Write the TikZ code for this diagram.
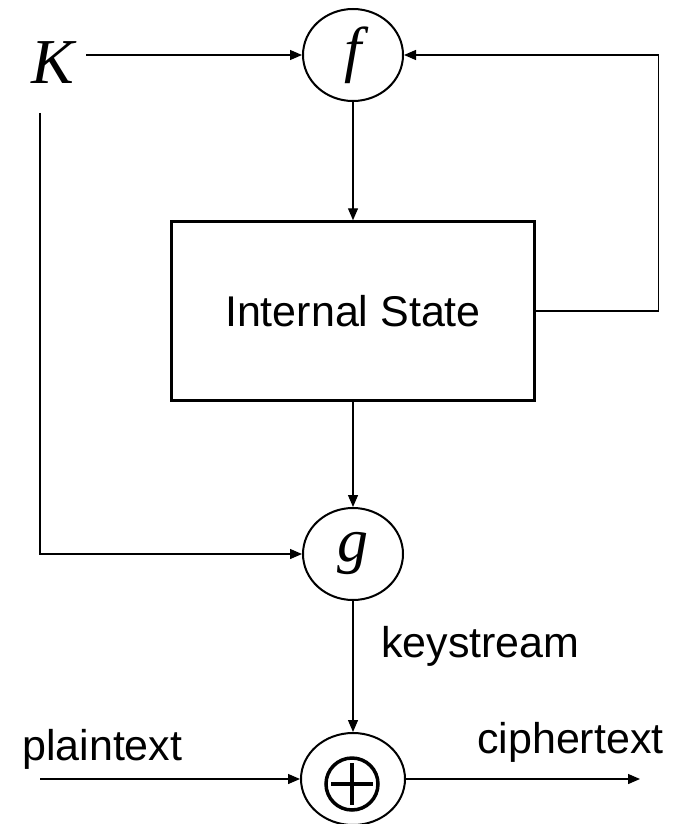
\documentclass[tikz,border=0pt]{standalone}
\usepackage{fontspec}
\setmainfont{Liberation Serif}
\setsansfont{Liberation Sans}
\usetikzlibrary{arrows.meta,shapes.geometric}
\begin{document}
\begin{tikzpicture}[x=1pt,y=-1pt,
  conn/.style={line width=1.3pt,-{Triangle[length=12pt,width=10pt]}},
  fn/.style={draw,ellipse,line width=2pt,minimum width=100pt,minimum height=92pt,inner sep=0pt,
    font=\fontsize{62}{62}\selectfont\itshape},
  lbl/.style={inner sep=0pt,font=\sffamily\fontsize{43}{50}\selectfont},
  statebox/.style={draw,line width=2.5pt,minimum width=363pt,minimum height=179pt,inner sep=0pt,
    font=\sffamily\fontsize{43}{50}\selectfont}]
\useasboundingbox (0,0) rectangle (672,824);
\node[inner sep=0pt,font=\fontsize{64}{64}\selectfont\itshape] (K) at (53,63) {K};
\node[fn] (f) at (353,55) {f};
\node[statebox] (box) at (353,311) {Internal State};
\node[fn] (g) at (353,554) {g};
\node[draw,ellipse,line width=2pt,minimum width=104pt,minimum height=92pt,inner sep=0pt] (xor) at (353,779) {};
\draw[line width=3.5pt] (352,784) circle (26);
\draw[line width=4pt] (352,763) -- (352,805) (331,784) -- (373,784);
\node[lbl,anchor=base west] (ks) at (381,657) {keystream};
\node[lbl,anchor=base west] (pt) at (22,760) {plaintext};
\node[lbl,anchor=base west] (ct) at (477,753) {ciphertext};
\coordinate (kstart) at (40,113);
\coordinate (kend) at (86,55);
\coordinate (pin) at (40,779);
\coordinate (cout) at (640,779);
\draw[conn] (kend) -- (f.west);
\draw[conn] (f.south) -- (box.north);
\draw[conn] (box.east) -- ++(123,0) |- (f.east);
\draw[conn] (kstart) |- (g.west);
\draw[conn] (box.south) -- (g.north);
\draw[conn] (g.south) -- (xor.north);
\draw[conn] (pin) -- (xor.west);
\draw[conn] (xor.east) -- (cout);
\end{tikzpicture}
\end{document}
